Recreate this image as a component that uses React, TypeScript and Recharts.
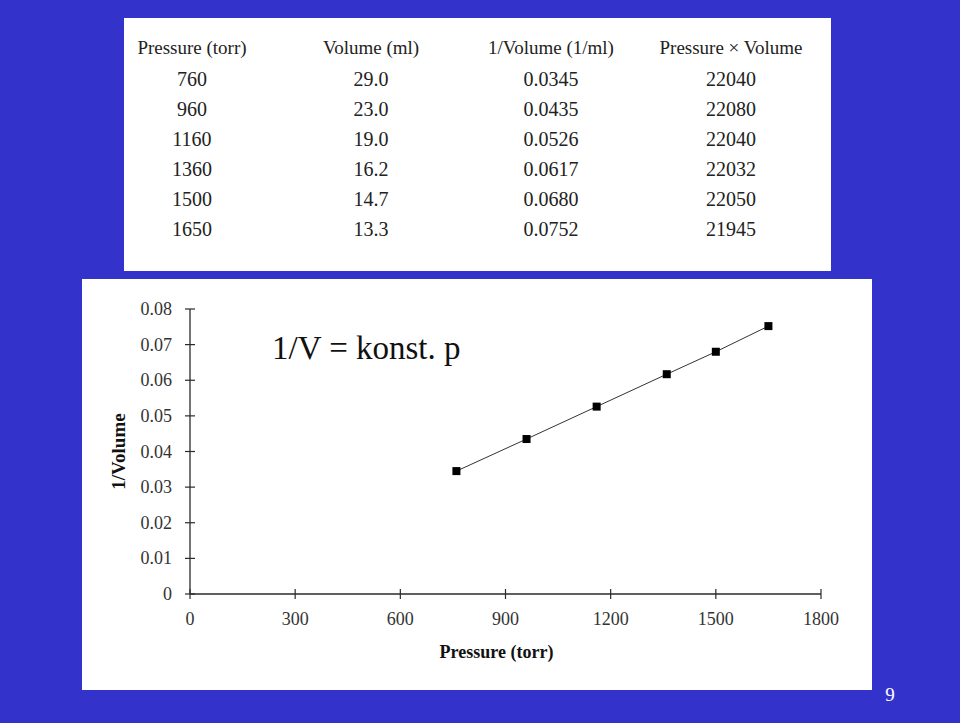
import { LineChart, Line, XAxis, YAxis, Label } from "recharts"

const pressures = [760, 960, 1160, 1360, 1500, 1650]
const volumes = [29.0, 23.0, 19.0, 16.2, 14.7, 13.3]
const inverseVolumes = [0.0345, 0.0435, 0.0526, 0.0617, 0.068, 0.0752]
const products = [22040, 22080, 22040, 22032, 22050, 21945]
const headers = ["Pressure (torr)", "Volume (ml)", "1/Volume (1/ml)", "Pressure \u00d7 Volume"]
const xTicks = [0, 300, 600, 900, 1200, 1500, 1800]
const yTicks = [0, 0.01, 0.02, 0.03, 0.04, 0.05, 0.06, 0.07, 0.08]

const data = pressures.map((p, i) => ({ pressure: p, inv: inverseVolumes[i] }))

const SERIF = "'Times New Roman', 'Liberation Serif', serif"
const BLUE = "#3333cc"
const INK = "#2a2a2a"

const colX = [192, 371, 551, 731]
const serif = (size: number, bold = false) => ({ fontFamily: SERIF, fontSize: size, fontWeight: bold ? 700 : 400 })

const XTick = ({ x, y, payload }: any) => (
  <g>
    <line x1={x} x2={x} y1={y - 5} y2={y + 5} stroke={INK} strokeWidth={1.2} />
    <text x={x} y={y + 31} textAnchor="middle" style={serif(18)} fill="#333">{payload.value}</text>
  </g>
)

const YTick = ({ x, y, payload }: any) => (
  <g>
    <line x1={x - 5} x2={x + 5} y1={y} y2={y} stroke={INK} strokeWidth={1.2} />
    <text x={x - 18} y={y + 6} textAnchor="end" style={serif(18)} fill="#333">{payload.value}</text>
  </g>
)

const Square = (props: any) => {
  const { cx, cy, index } = props
  return <rect key={`sq-${index}`} x={cx - 4} y={cy - 4} width={8} height={8} fill="#000" />
}

export default function App() {
  return (
    <div style={{ position: "absolute", left: 0, top: 0, width: 960, height: 723, background: BLUE, overflow: "hidden" }}>
      <svg width={960} height={723} style={{ position: "absolute", left: 0, top: 0 }}>
        <rect x={124} y={18} width={707} height={253} fill="#fff" />
        <rect x={82} y={279} width={790} height={411} fill="#fff" />
        {headers.map((h, i) => (
          <text key={h} x={colX[i]} y={54} textAnchor="middle" style={serif(19)} fill="#222">{h}</text>
        ))}
        {pressures.map((p, r) => {
          const y = 86 + r * 30
          const cells = [String(p), volumes[r].toFixed(1), inverseVolumes[r].toFixed(4), String(products[r])]
          return cells.map((c, i) => (
            <text key={`${r}-${i}`} x={colX[i]} y={y} textAnchor="middle" style={serif(20)} fill="#222">{c}</text>
          ))
        })}
        <text x={272} y={359} style={serif(33)} fill="#111">1/V = konst. p</text>
        <text x={890} y={701} textAnchor="middle" style={serif(19)} fill="#fff">9</text>
      </svg>
      <div style={{ position: "absolute", left: 82, top: 279 }}>
        <LineChart width={790} height={411} data={data} margin={{ top: 30, right: 51, left: 0, bottom: 0 }}>
          <XAxis
            type="number"
            dataKey="pressure"
            domain={[0, 1800]}
            ticks={xTicks}
            height={96}
            tickSize={0}
            tickMargin={0}
            tickLine={false}
            tick={<XTick />}
            axisLine={{ stroke: INK, strokeWidth: 1.3 }}
            interval={0}
          >
            <Label
              content={({ viewBox }: any) => (
                <text x={viewBox.x + viewBox.width / 2 - 9} y={viewBox.y + 64} textAnchor="middle" style={serif(18, true)} fill="#111">
                  Pressure (torr)
                </text>
              )}
            />
          </XAxis>
          <YAxis
            type="number"
            dataKey="inv"
            domain={[0, 0.08]}
            ticks={yTicks}
            width={108}
            tickSize={0}
            tickMargin={0}
            tickLine={false}
            tick={<YTick />}
            axisLine={{ stroke: INK, strokeWidth: 1.3 }}
            interval={0}
          >
            <Label
              content={({ viewBox }: any) => {
                const cx = viewBox.x + 36
                const cy = viewBox.y + viewBox.height / 2
                return (
                  <text x={cx} y={cy} transform={`rotate(-90, ${cx}, ${cy})`} textAnchor="middle" dominantBaseline="central" style={serif(19, true)} fill="#111">
                    1/Volume
                  </text>
                )
              }}
            />
          </YAxis>
          <Line
            type="linear"
            dataKey="inv"
            stroke="#333"
            strokeWidth={1}
            dot={Square}
            activeDot={false}
            isAnimationActive={false}
          />
        </LineChart>
      </div>
    </div>
  )
}
